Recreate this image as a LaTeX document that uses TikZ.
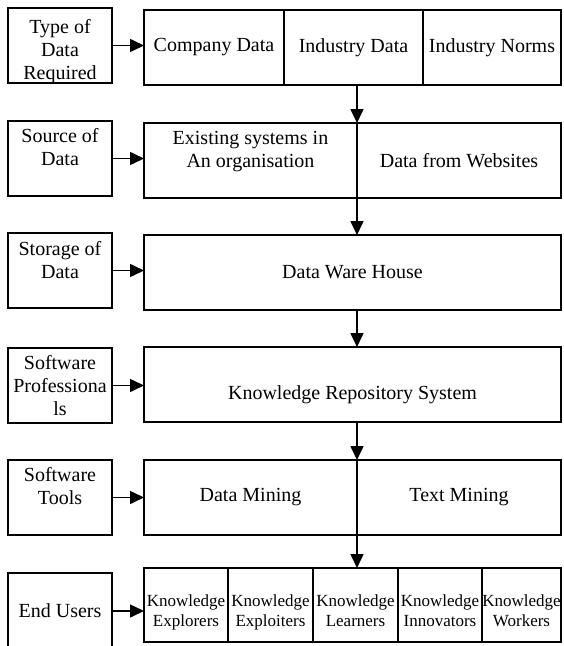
\documentclass[tikz,border=0pt]{standalone}
\usepackage{fontspec}
\setmainfont{Liberation Serif}
\usetikzlibrary{arrows.meta,positioning,calc}
\newcommand{\celltext}[4]{\parbox[c][#2][t]{#1}{\centering\rule{0pt}{#3}#4\par}}

\begin{document}
\begin{tikzpicture}[x=1pt, y=-1pt, line width=1.6pt,
    box/.style={draw, inner sep=0pt, outer sep=0pt, align=center, anchor=north west,
                font=\fontsize{20}{23}\selectfont},
    side/.style={box, minimum width=104pt, minimum height=75pt},
    cell/.style={box, font=\fontsize{17}{20.5}\selectfont},
    flow/.style={-{Triangle[length=14pt, width=13pt]}}]
    \useasboundingbox (0,0) rectangle (563,646);
    \clip (0,0) rectangle (563,646);

    % left column
    \node[side] (type) at (8,8) {\celltext{104pt}{75pt}{25pt}{Type of\\Data\\Required}};
    \node[side] (source) at (8,121) {\celltext{104pt}{75pt}{21pt}{Source of\\Data}};
    \node[side] (storage) at (8,233) {\celltext{104pt}{75pt}{22pt}{Storage of\\Data}};
    \node[side] (prof) at (8,348) {\celltext{104pt}{74pt}{21pt}{Software\\Professiona\\ls}};
    \node[side] (tools) at (8,460) {\celltext{104pt}{75pt}{21pt}{Software\\Tools}};
    \node[side, minimum height=76pt] (users) at (8,573) {End Users};

    % right column
    \node[box, minimum width=140pt, minimum height=75pt] (company) at (144,10) {Company Data};
    \node[box, minimum width=139pt, minimum height=75pt] (inddata) at (company.north east) {Industry Data};
    \node[box, minimum width=138pt, minimum height=75pt] (norms) at (inddata.north east) {Industry Norms};

    \node[box] (exist) at (144,123) {\celltext{213pt}{75pt}{21pt}{Existing systems in\\An organisation}};
    \node[box, minimum width=204pt, minimum height=75pt] (web) at (exist.north east) {Data from Websites};

    \node[box, minimum width=417pt, minimum height=75pt] (ware) at (144,235) {Data Ware House};

    \node[box] (repo) at (144,347) {\celltext{417pt}{75pt}{52pt}{Knowledge Repository System}};

    \node[box, minimum width=213pt, minimum height=75pt] (dmine) at (144,460) {Data Mining};
    \node[box, minimum width=204pt, minimum height=75pt] (tmine) at (dmine.north east) {Text Mining};

    \node[cell] (explor) at (144,568) {\celltext{84pt}{74pt}{38pt}{Knowledge\\Explorers}};
    \node[cell] (exploit) at (explor.north east) {\celltext{85pt}{74pt}{38pt}{Knowledge\\Exploiters}};
    \node[cell] (learn) at (exploit.north east) {\celltext{85pt}{74pt}{38pt}{Knowledge\\Learners}};
    \node[cell] (innov) at (learn.north east) {\celltext{84pt}{74pt}{38pt}{Knowledge\\Innovators}};
    \node[cell] (work) at (innov.north east) {\celltext{79pt}{74pt}{38pt}{Knowledge\\Workers}};

    % side arrows
    \draw[flow] (type.east) -- (type.east -| company.west);
    \draw[flow] (source.east) -- (source.east -| exist.west);
    \draw[flow] (storage.east) -- (storage.east -| ware.west);
    \draw[flow] (prof.east) -- (prof.east -| repo.west);
    \draw[flow] (tools.east) -- (tools.east -| dmine.west);
    \draw[flow] (users.east) -- (users.east -| explor.west);

    % down arrows
    \draw[flow] (exist.north east |- inddata.south) -- (exist.north east);
    \draw[flow] (exist.south east) -- (exist.south east |- ware.north);
    \draw[flow] (exist.south east |- ware.south) -- (exist.south east |- repo.north);
    \draw[flow] (dmine.north east |- repo.south) -- (dmine.north east);
    \draw[flow] (dmine.south east) -- (dmine.south east |- learn.north);
\end{tikzpicture}
\end{document}
